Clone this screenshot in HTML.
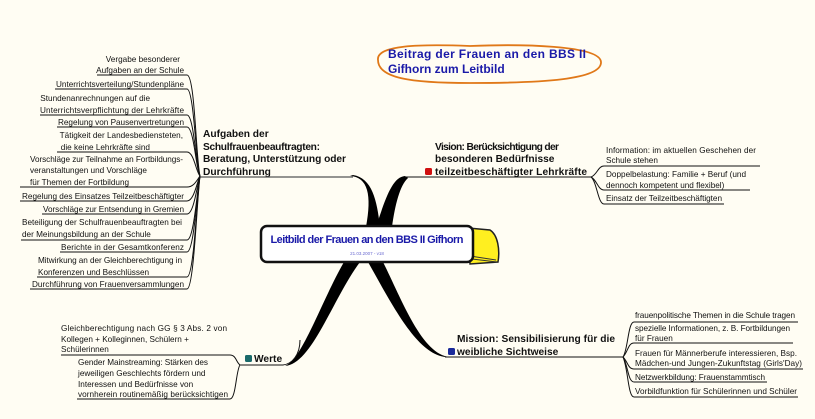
<!DOCTYPE html>
<html><head><meta charset="utf-8"><style>
html,body{margin:0;padding:0;background:#fffdf3;}
svg{display:block;font-family:"Liberation Sans",sans-serif;}
.s{font-size:8.2px;fill:#111;}
.b{font-size:10.2px;font-weight:bold;fill:#111;}
.r{text-anchor:end;}
</style></head><body>
<svg width="815" height="419" viewBox="0 0 815 419" xmlns="http://www.w3.org/2000/svg">
<rect width="815" height="419" fill="#fffdf3"/>
<path d="M378,60 C376,45 420,44 470,46 C520,44 600,45 601,62 C602,80 540,83 470,83 C410,83 378,78 378,60 Z" fill="none" stroke="#e07818" stroke-width="1.8"/>
<text x="388" y="58" font-size="12" font-weight="bold" fill="#1a1aa8" textLength="198">Beitrag der Frauen an den BBS II</text>
<text x="388" y="73" font-size="12" font-weight="bold" fill="#1a1aa8">Gifhorn zum Leitbild</text>

<path d="M350,176 C368,177 372,195 366,227 L380,227 C377,200 372,178 353,175 Z" fill="#000"/>
<path d="M405,176 C392,177 385,200 376,227 L392,227 C395,205 400,185 408,178 Z" fill="#000"/>
<path d="M344,262 L360,262 C332,300 312,364 285,366 C302,360 322,300 344,262 Z" fill="#000"/>
<path d="M368,262 L383,262 C402,300 422,355 450,357 C420,359 395,310 368,262 Z" fill="#000"/>

<path d="M468,228 L490,230 C498,235 500,250 498,262 L470,264 Z" fill="#ffef20" stroke="#222" stroke-width="1.5"/>
<path d="M470,256 L496,260 M472,259 L497,262" stroke="#333" stroke-width="1"/>
<rect x="261" y="226" width="212" height="36" rx="6" fill="#fff" stroke="#111" stroke-width="2.5"/>
<text x="367" y="243" text-anchor="middle" font-size="11" font-weight="bold" fill="#1a1aa8" textLength="193">Leitbild der Frauen an den BBS II Gifhorn</text>
<text x="367" y="255" text-anchor="middle" font-size="4.5" fill="#6a6ad0">21.03.2007 - v18</text>

<text class="b" x="203" y="137">Aufgaben der</text>
<text class="b" x="203" y="150" textLength="117">Schulfrauenbeauftragten:</text>
<text class="b" x="203" y="162" textLength="143">Beratung, Unterstützung oder</text>
<text class="b" x="203" y="175">Durchführung</text>
<line x1="200" y1="177" x2="353" y2="177" stroke="#555" stroke-width="1.2"/>

<g fill="none" stroke="#111" stroke-width="1">
<path d="M97,75 H187 C195,75 196,160 200,176"/>
<path d="M55,89 H187 C194,89 196,165 200,176"/>
<path d="M40,115 H187 C194,115 196,168 200,176"/>
<path d="M57,127 H187 C194,127 196,170 200,176"/>
<path d="M57,152 H187 C194,152 196,172 200,176"/>
<path d="M20,187 H187 C194,187 197,180 200,176"/>
<path d="M20,201 H187 C194,201 197,182 200,176"/>
<path d="M42,214 H187 C194,214 197,185 200,176"/>
<path d="M21,240 H187 C194,240 197,190 200,176"/>
<path d="M60,252 H187 C194,252 197,192 200,176"/>
<path d="M37,277 H187 C194,277 197,195 200,176"/>
<path d="M30,289 H187 C194,289 197,198 200,176"/>
</g>
<text x="180" y="62" class="s r">Vergabe besonderer</text>
<text x="184" y="73" class="s r">Aufgaben an der Schule</text>
<text x="184" y="87" class="s r" textLength="128">Unterrichtsverteilung/Stundenpläne</text>
<text x="150" y="101" class="s r">Stundenanrechnungen auf die</text>
<text x="184" y="113" class="s r" textLength="144">Unterrichtsverpflichtung der Lehrkräfte</text>
<text x="184" y="125" class="s r" textLength="126">Regelung von Pausenvertretungen</text>
<text x="183" y="138" class="s r">Tätigkeit der Landesbediensteten,</text>
<text x="150" y="150" class="s r">die keine Lehrkräfte sind</text>
<text x="30" y="162" class="s" textLength="153">Vorschläge zur Teilnahme an Fortbildungs-</text>
<text x="30" y="173" class="s">veranstaltungen und Vorschläge</text>
<text x="30" y="185" class="s">für Themen der Fortbildung</text>
<text x="184" y="199" class="s r" textLength="162">Regelung des Einsatzes Teilzeitbeschäftigter</text>
<text x="184" y="212" class="s r" textLength="141">Vorschläge zur Entsendung in Gremien</text>
<text x="182" y="225" class="s r" textLength="160">Beteiligung der Schulfrauenbeauftragten bei</text>
<text x="22" y="237" class="s">der Meinungsbildung an der Schule</text>
<text x="184" y="250" class="s r" textLength="123">Berichte in der Gesamtkonferenz</text>
<text x="182" y="263" class="s r" textLength="144">Mitwirkung an der Gleichberechtigung in</text>
<text x="38" y="275" class="s">Konferenzen und Beschlüssen</text>
<text x="184" y="287" class="s r" textLength="152">Durchführung von Frauenversammlungen</text>

<text class="b" x="435" y="150" textLength="124">Vision: Berücksichtigung der</text>
<text class="b" x="435" y="162">besonderen Bedürfnisse</text>
<text class="b" x="435" y="175" textLength="152">teilzeitbeschäftigter Lehrkräfte</text>
<rect x="425" y="168" width="7" height="7" rx="1.5" fill="#d01010"/>
<line x1="405" y1="177" x2="591" y2="177" stroke="#111" stroke-width="1"/>
<g fill="none" stroke="#111" stroke-width="1">
<path d="M591,177 C597,175 598,166 604,166 H760"/>
<path d="M591,177 C597,180 598,190 604,190 H750"/>
<path d="M591,177 C597,182 598,204 604,204 H724"/>
</g>
<text class="s" x="606" y="153" textLength="150">Information: im aktuellen Geschehen der</text>
<text class="s" x="606" y="163">Schule stehen</text>
<text class="s" x="606" y="177" textLength="140">Doppelbelastung: Familie + Beruf (und</text>
<text class="s" x="606" y="188">dennoch kompetent und flexibel)</text>
<text class="s" x="606" y="201" textLength="116">Einsatz der Teilzeitbeschäftigten</text>

<text class="b" x="457" y="342" textLength="158">Mission: Sensibilisierung für die</text>
<text class="b" x="457" y="355">weibliche Sichtweise</text>
<rect x="448" y="348" width="7" height="7" rx="1.5" fill="#1a2a9a"/>
<line x1="445" y1="357" x2="623" y2="357" stroke="#111" stroke-width="1"/>
<g fill="none" stroke="#111" stroke-width="1">
<path d="M623,357 C628,350 628,322 634,322 H798"/>
<path d="M623,357 C628,352 628,343 634,343 H793"/>
<path d="M623,357 C628,362 628,369 634,369 H803"/>
<path d="M623,357 C628,365 628,382 634,382 H767"/>
<path d="M623,357 C628,368 628,397 634,397 H798"/>
</g>
<text class="s" x="635" y="318" textLength="160">frauenpolitische Themen in die Schule tragen</text>
<text class="s" x="635" y="331" textLength="155">spezielle Informationen, z. B. Fortbildungen</text>
<text class="s" x="635" y="341">für Frauen</text>
<text class="s" x="635" y="356" textLength="162">Frauen für Männerberufe interessieren, Bsp.</text>
<text class="s" x="635" y="366" textLength="167">Mädchen-und Jungen-Zukunftstag (Girls'Day)</text>
<text class="s" x="635" y="380" textLength="130">Netzwerkbildung: Frauenstammtisch</text>
<text class="s" x="635" y="394" textLength="162">Vorbildfunktion für Schülerinnen und Schüler</text>

<rect x="245" y="355" width="7" height="7" rx="1.5" fill="#1a6a6a"/>
<text class="b" x="254" y="362">Werte</text>
<path d="M240,365 H283 C292,364 300,355 300,340" fill="none" stroke="#111" stroke-width="1"/>
<g fill="none" stroke="#111" stroke-width="1">
<path d="M240,365 C236,362 236,355 230,355 H61"/>
<path d="M240,365 C236,370 236,399 230,399 H77"/>
</g>
<text class="s" x="61" y="331" textLength="166">Gleichberechtigung nach GG § 3 Abs. 2 von</text>
<text class="s" x="61" y="342">Kollegen + Kolleginnen, Schülern +</text>
<text class="s" x="61" y="352">Schülerinnen</text>
<text class="s" x="78" y="365" textLength="130">Gender Mainstreaming: Stärken des</text>
<text class="s" x="78" y="376">jeweiligen Geschlechts fördern und</text>
<text class="s" x="78" y="387">Interessen und Bedürfnisse von</text>
<text class="s" x="78" y="397" textLength="150">vornherein routinemäßig berücksichtigen</text>
</svg>
</body></html>
